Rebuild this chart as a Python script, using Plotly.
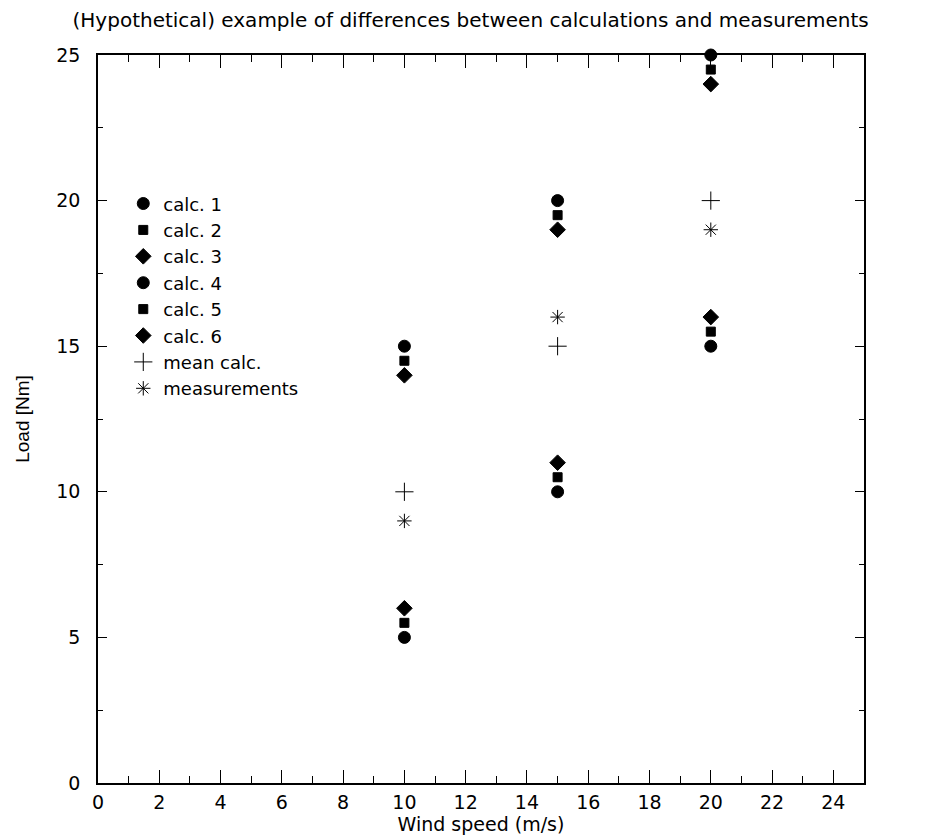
import plotly.graph_objects as go

wind = [10, 15, 20]
calc1 = [15, 20, 25]
calc2 = [14.5, 19.5, 24.5]
calc3 = [14, 19, 24]
calc4 = [5, 10, 15]
calc5 = [5.5, 10.5, 15.5]
calc6 = [6, 11, 16]
mean_calc = [10, 15, 20]
measurements = [9, 16, 19]

series = [
    ("calc. 1", calc1, "circle", 12),
    ("calc. 2", calc2, "square", 9),
    ("calc. 3", calc3, "diamond", 12),
    ("calc. 4", calc4, "circle", 12),
    ("calc. 5", calc5, "square", 9),
    ("calc. 6", calc6, "diamond", 12),
    ("mean calc.", mean_calc, "cross-thin-open", 13),
    ("measurements", measurements, "asterisk-open", 12),
]

WIDE = "DejaVu Sans, Verdana, sans-serif"
NARROW = "Liberation Sans, Arial, Helvetica, sans-serif"

fig = go.Figure()
for name, vals, sym, sz in series:
    fig.add_trace(go.Scatter(
        x=wind, y=vals, mode="markers", name=name, cliponaxis=False,
        marker=dict(symbol=sym, size=sz, color="black",
                    line=dict(color="black", width=1)),
    ))

fig.update_layout(
    width=929, height=831,
    plot_bgcolor="white", paper_bgcolor="white",
    margin=dict(l=90, r=73, t=47, b=56, autoexpand=False),
    font=dict(family=WIDE, color="black", size=18),
    title=dict(text="(Hypothetical) example of differences between calculations and measurements",
               x=0.498, xref="container", xanchor="center",
               y=0.994, yref="container", yanchor="top",
               font=dict(size=20, family=WIDE, color="black"), automargin=False),
    legend=dict(x=0.033, y=0.821, xanchor="left", yanchor="top",
                bgcolor="rgba(0,0,0,0)", font=dict(size=18, family=WIDE),
                tracegroupgap=0, itemwidth=30),
    showlegend=True,
)
fig.update_xaxes(
    range=[0, 25], dtick=2, tick0=0, showgrid=False, zeroline=False,
    showline=True, linecolor="black", linewidth=1.5, mirror="ticks",
    ticks="inside", ticklen=13, tickwidth=1.2, tickcolor="black",
    minor=dict(dtick=1, ticks="inside", ticklen=7, tickwidth=1.2, tickcolor="black"),
    tickfont=dict(size=19, family=WIDE), ticklabelstandoff=1, automargin=False,
    title=dict(text="Wind speed (m/s)", font=dict(size=19, family=WIDE), standoff=5),
)
fig.update_yaxes(
    range=[0, 25], dtick=5, tick0=0, showgrid=False, zeroline=False,
    showline=True, linecolor="black", linewidth=1.5, mirror="ticks",
    ticks="inside", ticklen=9, tickwidth=1.2, tickcolor="black",
    minor=dict(dtick=2.5, ticks="inside", ticklen=5, tickwidth=1.2, tickcolor="black"),
    tickfont=dict(size=19, family=WIDE), ticklabelstandoff=12, automargin=False,
    title=dict(text="Load [Nm]", font=dict(size=19, family=NARROW), standoff=22),
)

fig.write_html("out.html")
